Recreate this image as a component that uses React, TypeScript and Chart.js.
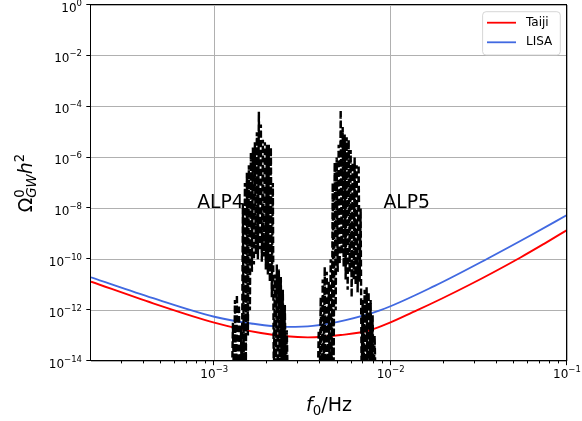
import React, { useEffect, useRef } from "react";
import { Chart, registerables } from "chart.js";

Chart.register(...registerables);

// ---------- data ----------
const xMin = 2e-4;
const xMax = 0.1;
const yMin = 1e-14;
const yMax = 1;

const xMajorTicks = [1e-3, 1e-2, 1e-1];
const xMinorTicks = [
  3e-4, 4e-4, 5e-4, 6e-4, 7e-4, 8e-4, 9e-4,
  2e-3, 3e-3, 4e-3, 5e-3, 6e-3, 7e-3, 8e-3, 9e-3,
  2e-2, 3e-2, 4e-2, 5e-2, 6e-2, 7e-2, 8e-2, 9e-2,
];
const yMajorTicks = [1e-14, 1e-12, 1e-10, 1e-8, 1e-6, 1e-4, 1e-2, 1e0];

const taijiFreq = [2.0e-4, 4.5e-4, 1.0e-3, 1.84e-3, 3.39e-3, 5.21e-3, 7.71e-3, 1.416e-2, 2.82e-2, 5.45e-2, 7.41e-2, 0.1];
const taijiOmega = [1.32e-11, 1.86e-12, 3.24e-13, 1.26e-13, 8.5e-14, 1.05e-13, 1.66e-13, 1e-12, 1.02e-11, 1.18e-10, 4.05e-10, 1.41e-9];

const lisaFreq = [2.0e-4, 4.5e-4, 1.0e-3, 1.62e-3, 2.61e-3, 3.62e-3, 5.56e-3, 8.77e-3, 1.778e-2, 3.58e-2, 6.31e-2, 0.1];
const lisaOmega = [1.95e-11, 2.95e-12, 5.5e-13, 3.0e-13, 2.19e-13, 2.4e-13, 4.07e-13, 1e-12, 9e-12, 1.1e-10, 9.2e-10, 5.5e-9];

const alp4Freq = [
  1.259e-3, 1.276e-3, 1.293e-3, 1.310e-3, 1.327e-3, 1.344e-3, 1.362e-3, 1.380e-3, 1.398e-3, 1.416e-3,
  1.434e-3, 1.453e-3, 1.472e-3, 1.492e-3, 1.511e-3, 1.531e-3, 1.551e-3, 1.571e-3, 1.592e-3, 1.613e-3,
  1.634e-3, 1.656e-3, 1.677e-3, 1.699e-3, 1.721e-3, 1.744e-3, 1.767e-3, 1.790e-3, 1.813e-3, 1.837e-3,
  1.861e-3, 1.886e-3, 1.910e-3, 1.936e-3, 1.961e-3, 1.987e-3, 2.013e-3, 2.039e-3, 2.066e-3, 2.093e-3,
  2.120e-3, 2.148e-3, 2.176e-3, 2.205e-3, 2.234e-3, 2.263e-3, 2.293e-3, 2.323e-3, 2.353e-3, 2.384e-3,
  2.415e-3, 2.447e-3, 2.479e-3, 2.512e-3, 2.544e-3, 2.578e-3, 2.611e-3,
];
const alp4Omega = [
  1e-15, 3.2e-13, 1e-15, 2.5e-12, 1e-15, 4e-12, 1e-15, 1.6e-12, 1e-15, 2.5e-13,
  1e-15, 1.6e-8, 1e-15, 1e-7, 1e-14, 2.5e-7, 1e-13, 5e-7, 1e-12, 1.6e-6,
  3.2e-11, 2.5e-6, 6.3e-11, 4e-6, 1.6e-10, 1e-5, 1e-10, 6.3e-5, 2.5e-10, 2e-5,
  8e-11, 5e-6, 1.3e-10, 4e-6, 4e-11, 3.2e-6, 2.5e-11, 3.2e-6, 1.3e-11, 2.5e-6,
  3.2e-12, 1e-7, 1e-15, 2.5e-11, 1e-15, 6.3e-11, 1e-15, 4e-11, 1e-15, 2e-11,
  1e-15, 6.3e-12, 1e-15, 1.6e-12, 1e-15, 1.6e-13, 1e-15,
];

const alp5Freq = [
  3.860e-3, 3.911e-3, 3.962e-3, 4.014e-3, 4.067e-3, 4.120e-3, 4.174e-3, 4.229e-3, 4.284e-3, 4.341e-3,
  4.397e-3, 4.455e-3, 4.513e-3, 4.573e-3, 4.633e-3, 4.693e-3, 4.755e-3, 4.817e-3, 4.880e-3, 4.944e-3,
  5.009e-3, 5.075e-3, 5.141e-3, 5.209e-3, 5.277e-3, 5.346e-3, 5.416e-3, 5.487e-3, 5.559e-3, 5.632e-3,
  5.706e-3, 5.781e-3, 5.857e-3, 5.934e-3, 6.011e-3, 6.090e-3, 6.170e-3, 6.251e-3, 6.333e-3, 6.416e-3,
  6.500e-3, 6.585e-3, 6.672e-3, 6.759e-3, 6.848e-3, 6.938e-3, 7.029e-3, 7.121e-3, 7.214e-3, 7.309e-3,
  7.405e-3, 7.502e-3, 7.600e-3, 7.700e-3, 7.801e-3, 7.903e-3, 8.007e-3, 8.112e-3, 8.218e-3,
];
const alp5Omega = [
  1e-15, 1.6e-13, 1e-15, 3.2e-12, 1e-15, 1.6e-11, 1e-15, 5e-11, 1e-15, 3.2e-11,
  1e-15, 1.3e-11, 1e-15, 1e-10, 1e-15, 1e-7, 1e-14, 6.3e-7, 1e-12, 1e-6,
  3.2e-11, 3.2e-6, 6.3e-11, 7.4e-5, 1.6e-10, 1.6e-5, 5e-11, 8e-6, 1.6e-11, 6.3e-6,
  6.3e-12, 5e-6, 3.2e-11, 2e-6, 3.2e-12, 6.3e-7, 1.6e-11, 1e-6, 1e-11, 5e-7,
  5e-12, 5e-7, 1.3e-11, 1e-8, 1e-15, 2.5e-12, 1e-15, 6.3e-12, 1e-15, 8e-12,
  1e-15, 5e-12, 1e-15, 2.5e-12, 1e-15, 6.3e-13, 1e-15, 1e-13, 1e-15,
];

const annotationLabels = ["ALP4", "ALP5"];
const annotationX = [8e-4, 9.1e-3];
const annotationY = [1e-8, 1e-8];

const legendLabels = ["Taiji", "LISA"];
const legendColors = ["#ff0000", "#4169e1"];

// ---------- drawing helpers ----------
const FAMILY = '"DejaVu Sans", sans-serif';
const fnt = (size: number, italic?: boolean) => `${italic ? "italic " : ""}${size}px ${FAMILY}`;

type Part = { t: string; size: number; italic?: boolean; dy?: number; stack?: boolean };

function layoutParts(ctx: CanvasRenderingContext2D, parts: Part[]) {
  const items: { p: Part; x: number }[] = [];
  let x = 0;
  let pending = 0;
  for (const p of parts) {
    ctx.font = fnt(p.size, p.italic);
    const w = ctx.measureText(p.t).width;
    if (p.stack) {
      items.push({ p, x });
      pending = w;
      continue;
    }
    items.push({ p, x });
    x += Math.max(w, pending);
    pending = 0;
  }
  return { items, width: x + pending };
}

function drawParts(ctx: CanvasRenderingContext2D, parts: Part[], x0: number, baseline: number, align: "left" | "center" | "right") {
  const { items, width } = layoutParts(ctx, parts);
  let start = x0;
  if (align === "center") start = x0 - width / 2;
  if (align === "right") start = x0 - width;
  ctx.textAlign = "left";
  ctx.textBaseline = "alphabetic";
  for (const it of items) {
    ctx.font = fnt(it.p.size, it.p.italic);
    ctx.fillText(it.p.t, start + it.x, baseline + (it.p.dy || 0));
  }
}

function powParts(v: number): Part[] {
  const e = Math.round(Math.log10(v));
  const s = e < 0 ? "\u2212" + String(-e) : String(e);
  return [
    { t: "10", size: 12 },
    { t: s, size: 8.5, dy: -6 },
  ];
}

const mplPlugin = {
  id: "mplLook",
  afterDatasetsDraw(chart: any) {
    const { ctx, chartArea: a, scales } = chart;
    const xs = scales.x;
    const ys = scales.y;
    ctx.save();
    ctx.fillStyle = "#000";
    ctx.strokeStyle = "#000";

    // annotations
    ctx.font = fnt(18.8);
    ctx.textAlign = "left";
    ctx.textBaseline = "alphabetic";
    annotationLabels.forEach((lab, i) => {
      ctx.fillText(lab, xs.getPixelForValue(annotationX[i]), ys.getPixelForValue(annotationY[i]));
    });

    // frame
    ctx.lineWidth = 1;
    ctx.strokeRect(a.left - 0.5, a.top - 0.5, a.right - a.left, a.bottom - a.top);

    // ticks
    ctx.beginPath();
    for (const v of xMajorTicks) {
      const px = Math.round(xs.getPixelForValue(v)) - 0.5;
      ctx.moveTo(px, a.bottom);
      ctx.lineTo(px, a.bottom + 4.2);
    }
    for (const v of xMinorTicks) {
      const px = Math.round(xs.getPixelForValue(v)) - 0.5;
      ctx.moveTo(px, a.bottom);
      ctx.lineTo(px, a.bottom + 2.4);
    }
    for (const v of yMajorTicks) {
      const py = Math.round(ys.getPixelForValue(v)) - 0.5;
      ctx.moveTo(a.left - 0.5, py);
      ctx.lineTo(a.left - 4.7, py);
    }
    ctx.stroke();

    // tick labels
    for (const v of xMajorTicks) {
      drawParts(ctx, powParts(v), xs.getPixelForValue(v), a.bottom + 16.7, "center");
    }
    for (const v of yMajorTicks) {
      drawParts(ctx, powParts(v), a.left - 9, ys.getPixelForValue(v) + 6.5, "right");
    }

    // x axis title
    drawParts(
      ctx,
      [
        { t: "f", size: 19, italic: true },
        { t: "0", size: 13.3, dy: 4 },
        { t: "/Hz", size: 19 },
      ],
      (a.left + a.right) / 2,
      411,
      "center"
    );

    // y axis title
    ctx.save();
    ctx.translate(32, (a.top + a.bottom) / 2);
    ctx.rotate(-Math.PI / 2);
    drawParts(
      ctx,
      [
        { t: "\u03A9", size: 19 },
        { t: "0", size: 13.3, dy: -8, stack: true },
        { t: "GW", size: 13.3, italic: true, dy: 4 },
        { t: "h", size: 19, italic: true },
        { t: "2", size: 13.3, dy: -8 },
      ],
      0,
      0,
      "center"
    );
    ctx.restore();

    // legend
    const bx = a.right - 84.4;
    const by = a.top + 6.7;
    const bw = 77.7;
    const bh = 43.3;
    const r = 3.5;
    ctx.beginPath();
    ctx.moveTo(bx + r, by);
    ctx.arcTo(bx + bw, by, bx + bw, by + bh, r);
    ctx.arcTo(bx + bw, by + bh, bx, by + bh, r);
    ctx.arcTo(bx, by + bh, bx, by, r);
    ctx.arcTo(bx, by, bx + bw, by, r);
    ctx.closePath();
    ctx.fillStyle = "rgba(255,255,255,0.8)";
    ctx.fill();
    ctx.strokeStyle = "rgba(204,204,204,0.8)";
    ctx.lineWidth = 1;
    ctx.stroke();
    legendLabels.forEach((lab, i) => {
      const ly = by + 11 + i * 19.6;
      ctx.strokeStyle = legendColors[i];
      ctx.lineWidth = 1.8;
      ctx.beginPath();
      ctx.moveTo(bx + 4.4, ly);
      ctx.lineTo(bx + 33.4, ly);
      ctx.stroke();
      ctx.fillStyle = "#000";
      ctx.font = fnt(12);
      ctx.textAlign = "left";
      ctx.textBaseline = "middle";
      ctx.fillText(lab, bx + 43.4, ly);
    });

    ctx.restore();
  },
};

const toPoints = (xs: number[], ys: number[]) => xs.map((x, i) => ({ x, y: ys[i] }));

export default function App() {
  const ref = useRef<HTMLCanvasElement>(null);
  useEffect(() => {
    if (!ref.current) return;
    const chart = new Chart(ref.current, {
      type: "line",
      data: {
        datasets: [
          {
            label: "ALP4",
            data: toPoints(alp4Freq, alp4Omega),
            borderColor: "#000",
            borderWidth: 2.4,
            borderDash: [6.7, 2.9],
            pointRadius: 0,
            tension: 0,
            clip: 0,
          },
          {
            label: "ALP5",
            data: toPoints(alp5Freq, alp5Omega),
            borderColor: "#000",
            borderWidth: 2.4,
            borderDash: [6.7, 2.9],
            pointRadius: 0,
            tension: 0,
            clip: 0,
          },
          {
            label: legendLabels[0],
            data: toPoints(taijiFreq, taijiOmega),
            borderColor: legendColors[0],
            borderWidth: 1.9,
            pointRadius: 0,
            cubicInterpolationMode: "monotone",
            clip: 0,
          },
          {
            label: legendLabels[1],
            data: toPoints(lisaFreq, lisaOmega),
            borderColor: legendColors[1],
            borderWidth: 1.9,
            pointRadius: 0,
            cubicInterpolationMode: "monotone",
            clip: 0,
          },
        ],
      } as any,
      options: {
        responsive: false,
        maintainAspectRatio: false,
        devicePixelRatio: 1,
        animation: false,
        layout: { padding: { top: 5, right: 15, left: 0, bottom: 0 } },
        plugins: { legend: { display: false }, tooltip: { enabled: false } },
        scales: {
          x: {
            type: "logarithmic",
            min: xMin,
            max: xMax,
            afterBuildTicks: (s: any) => {
              s.ticks = xMajorTicks.map((v) => ({ value: v }));
            },
            afterFit: (s: any) => {
              s.height = 60;
            },
            ticks: { display: false },
            grid: { color: "#b0b0b0", lineWidth: 1, drawTicks: false },
            border: { display: false },
          },
          y: {
            type: "logarithmic",
            min: yMin,
            max: yMax,
            afterBuildTicks: (s: any) => {
              s.ticks = yMajorTicks.map((v) => ({ value: v }));
            },
            afterFit: (s: any) => {
              s.width = 91;
            },
            ticks: { display: false },
            grid: { color: "#b0b0b0", lineWidth: 1, drawTicks: false },
            border: { display: false },
          },
        },
      } as any,
      plugins: [mplPlugin],
    });
    return () => chart.destroy();
  }, []);
  return (
    <div style={{ position: "absolute", left: 0, top: 0, width: 582, height: 421 }}>
      <canvas ref={ref} width={582} height={421} style={{ display: "block", width: 582, height: 421 }} />
    </div>
  );
}
